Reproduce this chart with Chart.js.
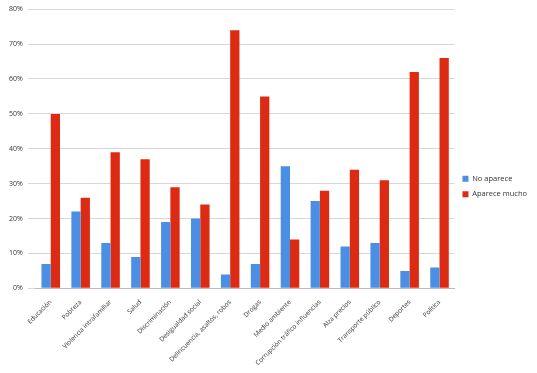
<!DOCTYPE html>
<html lang="es">
<head>
  <meta charset="UTF-8">
  <title>No aparece / Aparece mucho</title>
  <script src="https://cdn.jsdelivr.net/npm/chart.js"></script>
  <style>
    html, body { margin: 0; padding: 0; background: #fff; overflow: hidden; }
    .wrap { width: 537px; height: 373px; position: relative; }
  </style>
</head>
<body>
  <div class="wrap"><canvas id="chart"></canvas></div>
  <script>
    // categorias
    const temas = ['Educación', 'Pobreza', 'Violencia intrafamiliar', 'Salud', 'Discriminación',
      'Desigualdad social', 'Delincuencia, asaltos, robos', 'Drogas', 'Medio ambiente',
      'Corrupción tráfico influencias', 'Alza precios', 'Transporte público', 'Deportes', 'Política'];
    // porcentajes
    const noAparece = [7, 22, 13, 9, 19, 20, 4, 7, 35, 25, 12, 13, 5, 6];
    const apareceMucho = [50, 26, 39, 37, 29, 24, 74, 55, 14, 28, 34, 31, 62, 66];
    const yTicks = [0, 10, 20, 30, 40, 50, 60, 70, 80];

    const font = "'Open Sans', sans-serif";

    new Chart(document.getElementById('chart'), {
      type: 'bar',
      data: {
        labels: temas,
        datasets: [
          { label: 'No aparece', data: noAparece, backgroundColor: '#4a8fe3' },
          { label: 'Aparece mucho', data: apareceMucho, backgroundColor: '#dd2a12' }
        ]
      },
      options: {
        responsive: true,
        maintainAspectRatio: false,
        animation: false,
        layout: { padding: { top: 4, left: 4, right: 0, bottom: 4 } },
        datasets: { bar: { categoryPercentage: 0.62, barPercentage: 1 } },
        plugins: {
          tooltip: { enabled: false },
          legend: {
            position: 'right',
            labels: {
              boxWidth: 6, boxHeight: 6, padding: 8,
              color: '#333', font: { family: font, size: 7.5 }
            }
          }
        },
        scales: {
          x: {
            grid: { display: false },
            border: { color: '#bbb' },
            ticks: {
              autoSkip: false, maxRotation: 45, minRotation: 45,
              color: '#333', font: { family: font, size: 6.5 }, padding: 2
            }
          },
          y: {
            min: 0, max: 80,
            afterBuildTicks: axis => { axis.ticks = yTicks.map(v => ({ value: v })); },
            grid: { color: '#d8d8d8' },
            border: { display: false },
            ticks: {
              callback: v => v + '%',
              color: '#333', font: { family: font, size: 7 }, padding: 5
            }
          }
        }
      }
    });
  </script>
</body>
</html>
